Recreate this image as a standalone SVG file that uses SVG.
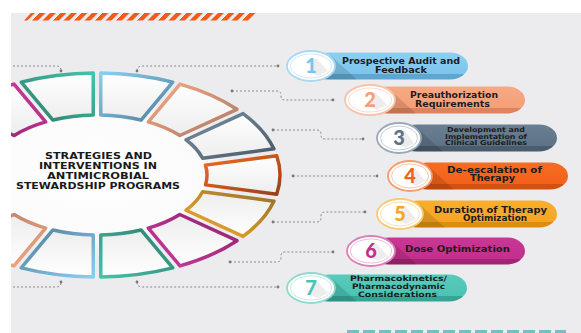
<svg xmlns="http://www.w3.org/2000/svg" width="581" height="333" viewBox="0 0 581 333">
<style>
.seg{stroke-width:3.5;stroke-linejoin:round;fill:url(#segfill)}
.con{fill:none;stroke:#8a8a8a;stroke-width:1;stroke-dasharray:2 2}
.dot{fill:#7a7a7a}
.lbl{font-family:"DejaVu Sans","Liberation Sans",Arial,sans-serif;font-weight:bold;fill:#1c1c1c}
.ttl{font-family:"DejaVu Sans","Liberation Sans",Arial,sans-serif;font-weight:bold;fill:#1a1a1a;font-size:8.5px}
.num{font-family:Lato,Roboto,"Liberation Sans",sans-serif;font-weight:900;font-size:20px;text-anchor:middle}
.circ{fill:#ffffff}
.shade{fill:#000000;opacity:0.12}
.dshade{fill:#000000;opacity:0.07}
</style>
<defs>
<clipPath id="area"><rect x="11" y="13" width="570" height="320"/></clipPath>
<linearGradient id="segfill" x1="0" y1="0" x2="0" y2="1"><stop offset="0" stop-color="#ffffff"/><stop offset="1" stop-color="#ededed"/></linearGradient>
<radialGradient id="glow" cx="0.5" cy="0.5" r="0.5"><stop offset="0" stop-color="#ffffff"/><stop offset="0.7" stop-color="#fbfbfb"/><stop offset="1" stop-color="#ececee" stop-opacity="0"/></radialGradient>
<linearGradient id="sBlue" x1="0" y1="0" x2="1" y2="1"><stop offset="0" stop-color="#88cff2"/><stop offset="1" stop-color="#507e99"/></linearGradient>
<linearGradient id="sSalmon" x1="0" y1="0" x2="1" y2="1"><stop offset="0" stop-color="#f8a983"/><stop offset="1" stop-color="#a97a66"/></linearGradient>
<linearGradient id="sSlate" x1="0" y1="0" x2="1" y2="1"><stop offset="0" stop-color="#7890a4"/><stop offset="1" stop-color="#4a5967"/></linearGradient>
<linearGradient id="sOrange" x1="0" y1="0" x2="1" y2="1"><stop offset="0" stop-color="#f46a1e"/><stop offset="1" stop-color="#96401a"/></linearGradient>
<linearGradient id="sYellow" x1="0" y1="0" x2="1" y2="1"><stop offset="0" stop-color="#f8ad2a"/><stop offset="1" stop-color="#94702a"/></linearGradient>
<linearGradient id="sMagenta" x1="0" y1="0" x2="1" y2="1"><stop offset="0" stop-color="#cc3a9c"/><stop offset="1" stop-color="#8e2470"/></linearGradient>
<linearGradient id="sTeal" x1="0" y1="0" x2="1" y2="1"><stop offset="0" stop-color="#46c2aa"/><stop offset="1" stop-color="#2b7d6c"/></linearGradient>
<linearGradient id="pBlue" x1="0" y1="0" x2="0" y2="1"><stop offset="0" stop-color="#8dd0f2"/><stop offset="0.78" stop-color="#7dc4ec"/><stop offset="0.8" stop-color="#5ea6d0"/><stop offset="1" stop-color="#5ea6d0"/></linearGradient>
<linearGradient id="pSalmon" x1="0" y1="0" x2="0" y2="1"><stop offset="0" stop-color="#f7a985"/><stop offset="0.78" stop-color="#f49f78"/><stop offset="0.8" stop-color="#dd845e"/><stop offset="1" stop-color="#dd845e"/></linearGradient>
<linearGradient id="pSlate" x1="0" y1="0" x2="0" y2="1"><stop offset="0" stop-color="#6a7f92"/><stop offset="0.78" stop-color="#5f7387"/><stop offset="0.8" stop-color="#4a5c6d"/><stop offset="1" stop-color="#4a5c6d"/></linearGradient>
<linearGradient id="pOrange" x1="0" y1="0" x2="0" y2="1"><stop offset="0" stop-color="#f66c22"/><stop offset="0.78" stop-color="#f2621a"/><stop offset="0.8" stop-color="#d4500f"/><stop offset="1" stop-color="#d4500f"/></linearGradient>
<linearGradient id="pYellow" x1="0" y1="0" x2="0" y2="1"><stop offset="0" stop-color="#f8ae2e"/><stop offset="0.78" stop-color="#f6a523"/><stop offset="0.8" stop-color="#dd8c12"/><stop offset="1" stop-color="#dd8c12"/></linearGradient>
<linearGradient id="pMagenta" x1="0" y1="0" x2="0" y2="1"><stop offset="0" stop-color="#c93796"/><stop offset="0.78" stop-color="#c22f8d"/><stop offset="0.8" stop-color="#a22474"/><stop offset="1" stop-color="#a22474"/></linearGradient>
<linearGradient id="pTeal" x1="0" y1="0" x2="0" y2="1"><stop offset="0" stop-color="#58cabb"/><stop offset="0.78" stop-color="#4cc4b4"/><stop offset="0.8" stop-color="#35a696"/><stop offset="1" stop-color="#35a696"/></linearGradient>
<pattern id="stripes" patternUnits="userSpaceOnUse" width="10.5" height="20" patternTransform="skewX(-45)"><rect x="0" y="0" width="6" height="20" fill="#f05a1a"/></pattern>
</defs>

<rect x="0" y="0" width="581" height="333" fill="#ffffff"/>
<rect x="11" y="13" width="570" height="320" fill="#ececee"/>

<g id="decor">
<polygon points="31,13 257,13 250,20.5 24,20.5" fill="url(#stripes)"/>
<line x1="347" y1="331.5" x2="566" y2="331.5" stroke="#76bdc8" stroke-width="3" stroke-dasharray="12 4"/>
</g>

<g id="ring" clip-path="url(#area)">
<ellipse cx="97" cy="175" rx="150" ry="88" fill="url(#glow)"/>
<path class="seg" stroke="url(#sBlue)" d="M100.75,73.02 A183,102 0 0 1 172.76,82.15 L141.06,120.02 A110,60 0 0 0 100.75,115.03 Z"/>
<path class="seg" stroke="url(#sSalmon)" d="M180.01,84.10 A183,102 0 0 1 236.97,109.29 L179.83,135.52 A110,60 0 0 0 148.33,121.93 Z"/>
<path class="seg" stroke="url(#sSlate)" d="M243.07,113.55 A183,102 0 0 1 273.88,148.85 L202.61,158.22 A110,60 0 0 0 186.02,139.75 Z"/>
<path class="seg" stroke="url(#sOrange)" d="M276.72,155.79 A183,102 0 0 1 276.72,194.21 L205.50,184.87 A110,60 0 0 0 205.50,165.13 Z"/>
<path class="seg" stroke="url(#sYellow)" transform="matrix(1 0 0 -1 0 350)" d="M243.07,113.55 A183,102 0 0 1 273.88,148.85 L202.61,158.22 A110,60 0 0 0 186.02,139.75 Z"/>
<path class="seg" stroke="url(#sMagenta)" transform="matrix(1 0 0 -1 0 350)" d="M180.01,84.10 A183,102 0 0 1 236.97,109.29 L179.83,135.52 A110,60 0 0 0 148.33,121.93 Z"/>
<path class="seg" stroke="url(#sTeal)" transform="matrix(1 0 0 -1 0 350)" d="M100.75,73.02 A183,102 0 0 1 172.76,82.15 L141.06,120.02 A110,60 0 0 0 100.75,115.03 Z"/>
<path class="seg" stroke="url(#sBlue)" transform="rotate(180 97 175)" d="M100.75,73.02 A183,102 0 0 1 172.76,82.15 L141.06,120.02 A110,60 0 0 0 100.75,115.03 Z"/>
<path class="seg" stroke="url(#sSalmon)" transform="rotate(180 97 175)" d="M180.01,84.10 A183,102 0 0 1 236.97,109.29 L179.83,135.52 A110,60 0 0 0 148.33,121.93 Z"/>
<path class="seg" stroke="url(#sMagenta)" transform="matrix(-1 0 0 1 194 0)" d="M180.01,84.10 A183,102 0 0 1 236.97,109.29 L179.83,135.52 A110,60 0 0 0 148.33,121.93 Z"/>
<path class="seg" stroke="url(#sTeal)" transform="matrix(-1 0 0 1 194 0)" d="M100.75,73.02 A183,102 0 0 1 172.76,82.15 L141.06,120.02 A110,60 0 0 0 100.75,115.03 Z"/>
</g>

<g id="title">
<text class="ttl" x="45" y="159" textLength="107" lengthAdjust="spacingAndGlyphs">STRATEGIES AND</text>
<text class="ttl" x="39" y="169" textLength="118" lengthAdjust="spacingAndGlyphs">INTERVENTIONS IN</text>
<text class="ttl" x="47" y="179" textLength="102" lengthAdjust="spacingAndGlyphs">ANTIMICROBIAL</text>
<text class="ttl" x="16" y="188.5" textLength="164" lengthAdjust="spacingAndGlyphs">STEWARDSHIP PROGRAMS</text>
</g>

<g id="connectors" clip-path="url(#area)">
<path class="con" d="M137,71 Q137,66 142,66 H278"/>
<path class="con" d="M13,66 H56 Q61,66 61,71"/>
<path class="con" d="M232,91 H277 Q281,91 281,95 V96 Q281,100 285,100 H333"/>
<path class="con" d="M273,130 H317 Q321,130 321,134 V135 Q321,139 325,139 H363"/>
<path class="con" d="M293,176 H377"/>
<path class="con" d="M273,222 H317 Q321,222 321,218 V216 Q321,212 325,212 H365"/>
<path class="con" d="M230,262 H277 Q281,262 281,258 V256 Q281,252 285,252 H333"/>
<path class="con" d="M137,282 Q137,287 142,287 H278"/>
<path class="con" d="M13,287 H56 Q61,287 61,282"/>
<circle class="dot" cx="137" cy="71" r="1.4"/><circle class="dot" cx="278" cy="66" r="1.4"/>
<circle class="dot" cx="61" cy="71" r="1.4"/>
<circle class="dot" cx="232" cy="91" r="1.4"/><circle class="dot" cx="333" cy="100" r="1.4"/>
<circle class="dot" cx="273" cy="130" r="1.4"/><circle class="dot" cx="363" cy="139" r="1.4"/>
<circle class="dot" cx="293" cy="176" r="1.4"/><circle class="dot" cx="377" cy="176" r="1.4"/>
<circle class="dot" cx="273" cy="222" r="1.4"/><circle class="dot" cx="365" cy="212" r="1.4"/>
<circle class="dot" cx="230" cy="262" r="1.4"/><circle class="dot" cx="333" cy="252" r="1.4"/>
<circle class="dot" cx="137" cy="282" r="1.4"/><circle class="dot" cx="278" cy="287" r="1.4"/>
<circle class="dot" cx="61" cy="282" r="1.4"/>
</g>

<g id="node1">
<rect x="311" y="52.5" width="157" height="27" rx="18" ry="13.5" fill="url(#pBlue)"/>
<polygon class="shade" points="331,56 357,79.5 311,79.5"/>
<ellipse class="circ" cx="311" cy="66" rx="24" ry="15" stroke="#a9d9f2" stroke-width="1.8"/>
<ellipse cx="311" cy="66" rx="20.5" ry="12" fill="none" stroke="#cde9f7" stroke-width="1"/>
<polygon class="dshade" points="313,59 317,59 328,71 318,76 311,73"/>
<text class="num" x="311" y="73" fill="#7dc4ec">1</text>
<text class="lbl" x="342" y="63.5" font-size="8.5" textLength="118" lengthAdjust="spacingAndGlyphs">Prospective Audit and</text>
<text class="lbl" x="375" y="72.5" font-size="8.5" textLength="52" lengthAdjust="spacingAndGlyphs">Feedback</text>
</g>

<g id="node2">
<rect x="370" y="86.5" width="155" height="27" rx="18" ry="13.5" fill="url(#pSalmon)"/>
<polygon class="shade" points="390,90 416,113.5 370,113.5"/>
<ellipse class="circ" cx="370" cy="100" rx="25" ry="15" stroke="#f7c4ab" stroke-width="1.8"/>
<ellipse cx="370" cy="100" rx="21.5" ry="12" fill="none" stroke="#fadccc" stroke-width="1"/>
<polygon class="dshade" points="372,93 376,93 387,105 377,110 370,107"/>
<text class="num" x="370" y="107" fill="#f49f78">2</text>
<text class="lbl" x="410" y="98" font-size="8.5" textLength="88" lengthAdjust="spacingAndGlyphs">Preauthorization</text>
<text class="lbl" x="415" y="106.5" font-size="8.5" textLength="75" lengthAdjust="spacingAndGlyphs">Requirements</text>
</g>

<g id="node3">
<rect x="399" y="124.5" width="158" height="27" rx="18" ry="13.5" fill="url(#pSlate)"/>
<polygon class="shade" points="417,128 443,151.5 399,151.5"/>
<ellipse class="circ" cx="399" cy="138" rx="22" ry="15" stroke="#9aa9b6" stroke-width="1.8"/>
<ellipse cx="399" cy="138" rx="18.5" ry="12" fill="none" stroke="#c6ced6" stroke-width="1"/>
<polygon class="dshade" points="401,131 405,131 414,143 405,148 399,145"/>
<text class="num" x="399" y="145" fill="#5f7387">3</text>
<text class="lbl" x="447" y="132" font-size="6.8" textLength="78" lengthAdjust="spacingAndGlyphs">Development and</text>
<text class="lbl" x="445" y="138.5" font-size="6.8" textLength="82" lengthAdjust="spacingAndGlyphs">Implementation of</text>
<text class="lbl" x="445" y="145" font-size="6.8" textLength="82" lengthAdjust="spacingAndGlyphs">Clinical Guidelines</text>
</g>

<g id="node4">
<rect x="410" y="162.5" width="158" height="27" rx="18" ry="13.5" fill="url(#pOrange)"/>
<polygon class="shade" points="428,166 454,189.5 410,189.5"/>
<ellipse class="circ" cx="410" cy="176" rx="22" ry="15" stroke="#f79c6c" stroke-width="1.8"/>
<ellipse cx="410" cy="176" rx="18.5" ry="12" fill="none" stroke="#fac6aa" stroke-width="1"/>
<polygon class="dshade" points="412,169 416,169 425,181 416,186 410,183"/>
<text class="num" x="410" y="183" fill="#f2621a">4</text>
<text class="lbl" x="447" y="172.5" font-size="8.5" textLength="95" lengthAdjust="spacingAndGlyphs">De-escalation of</text>
<text class="lbl" x="470" y="181" font-size="8.5" textLength="45" lengthAdjust="spacingAndGlyphs">Therapy</text>
</g>

<g id="node5">
<rect x="400" y="200.5" width="157" height="27" rx="18" ry="13.5" fill="url(#pYellow)"/>
<polygon class="shade" points="419,204 445,227.5 400,227.5"/>
<ellipse class="circ" cx="400" cy="214" rx="23" ry="15" stroke="#f8c976" stroke-width="1.8"/>
<ellipse cx="400" cy="214" rx="19.5" ry="12" fill="none" stroke="#fbe0ac" stroke-width="1"/>
<polygon class="dshade" points="402,207 406,207 416,219 406,224 400,221"/>
<text class="num" x="400" y="221" fill="#f6a523">5</text>
<text class="lbl" x="434" y="212.5" font-size="8.5" textLength="113" lengthAdjust="spacingAndGlyphs">Duration of Therapy</text>
<text class="lbl" x="463" y="221" font-size="8.5" textLength="64" lengthAdjust="spacingAndGlyphs">Optimization</text>
</g>

<g id="node6">
<rect x="371" y="237.5" width="154" height="27" rx="18" ry="13.5" fill="url(#pMagenta)"/>
<polygon class="shade" points="391,241 417,264.5 371,264.5"/>
<ellipse class="circ" cx="371" cy="251" rx="24" ry="15" stroke="#dc80ba" stroke-width="1.8"/>
<ellipse cx="371" cy="251" rx="20.5" ry="12" fill="none" stroke="#edbcdb" stroke-width="1"/>
<polygon class="dshade" points="373,244 377,244 388,256 378,261 371,258"/>
<text class="num" x="371" y="258" fill="#c22f8d">6</text>
<text class="lbl" x="405" y="251.5" font-size="8.5" textLength="105" lengthAdjust="spacingAndGlyphs">Dose Optimization</text>
</g>

<g id="node7">
<rect x="311" y="274.5" width="156" height="27" rx="18" ry="13.5" fill="url(#pTeal)"/>
<polygon class="shade" points="331,278 357,301.5 311,301.5"/>
<ellipse class="circ" cx="311" cy="288" rx="24" ry="15" stroke="#8fd9ce" stroke-width="1.8"/>
<ellipse cx="311" cy="288" rx="20.5" ry="12" fill="none" stroke="#c3ebe5" stroke-width="1"/>
<polygon class="dshade" points="313,281 317,281 328,293 318,298 311,295"/>
<text class="num" x="311" y="295" fill="#4cc4b4">7</text>
<text class="lbl" x="350" y="281" font-size="7.5" textLength="97" lengthAdjust="spacingAndGlyphs">Pharmacokinetics/</text>
<text class="lbl" x="352" y="288.5" font-size="7.5" textLength="93" lengthAdjust="spacingAndGlyphs">Pharmacodynamic</text>
<text class="lbl" x="358" y="296.5" font-size="7.5" textLength="79" lengthAdjust="spacingAndGlyphs">Considerations</text>
</g>
</svg>
